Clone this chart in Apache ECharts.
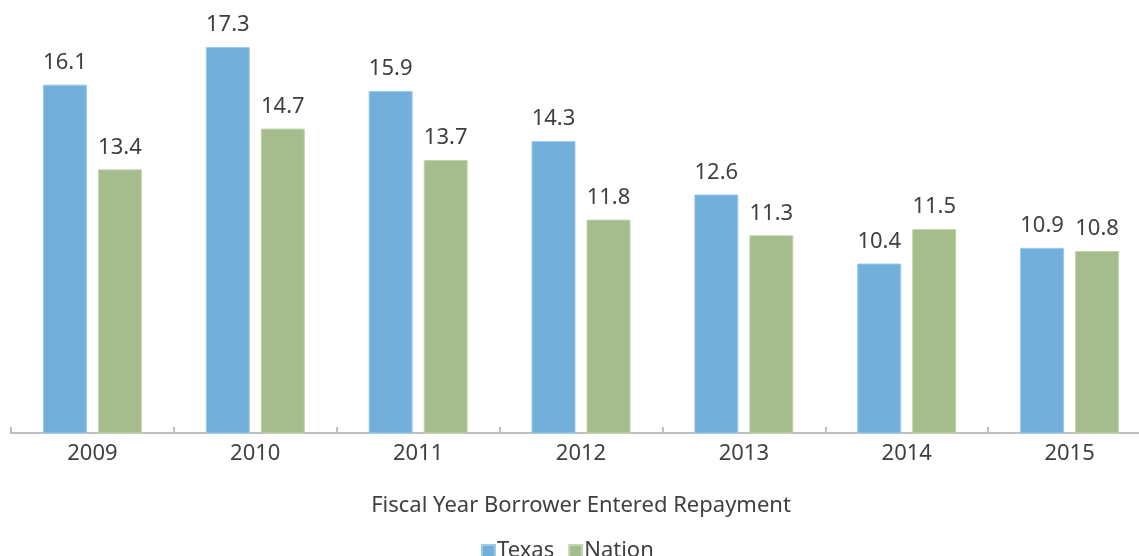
<!DOCTYPE html>
<html><head><meta charset="utf-8">
<script src="https://cdn.jsdelivr.net/npm/echarts@6/dist/echarts.min.js"></script>
<style>html,body{margin:0;padding:0;background:#fff;overflow:hidden;width:1139px;height:556px}#c{width:1160px;height:556px}</style>
</head><body><div id="c"></div>
<script>
const categories = ['2009','2010','2011','2012','2013','2014','2015'];
const texas = [16.1, 17.3, 15.9, 14.3, 12.6, 10.4, 10.9];
const nation = [13.4, 14.7, 13.7, 11.8, 11.3, 11.5, 10.8];
const seriesNames = ['Texas', 'Nation'];
const xAxisTitle = 'Fiscal Year Borrower Entered Repayment';

const FONT = '"Noto Sans", "Open Sans", sans-serif';
const chart = echarts.init(document.getElementById('c'), null, {renderer: 'canvas'});
const lbl = {show: true, position: 'top', distance: 11, color: '#404040', fontSize: 22, fontFamily: FONT};
chart.setOption({
  animation: false,
  grid: {left: 11, right: 9, top: 25, bottom: 123, containLabel: false},
  legend: {
    data: seriesNames, bottom: -11, left: 476, icon: 'rect',
    itemWidth: 13, itemHeight: 12, itemGap: 14,
    textStyle: {color: '#404040', fontSize: 22, fontFamily: FONT, padding: [0,0,0,-3]}
  },
  xAxis: {
    type: 'category', data: categories,
    name: xAxisTitle, nameLocation: 'middle', nameGap: 62,
    nameTextStyle: {color: '#404040', fontSize: 22, fontFamily: FONT},
    axisLine: {show: true, lineStyle: {color: '#bfbfbf', width: 2}},
    axisTick: {show: true, inside: true, length: 6, lineStyle: {color: '#bfbfbf', width: 2}},
    axisLabel: {color: '#404040', fontSize: 22, fontFamily: FONT, margin: 10}
  },
  yAxis: {
    type: 'value', min: 5, max: 18, show: false,
    splitLine: {show: false}
  },
  series: [
    {name: seriesNames[0], type: 'bar', data: texas, barWidth: 44, barGap: '25%',
     itemStyle: {color: '#73afdb', borderColor: '#9ccbec', borderWidth: 1}, label: lbl},
    {name: seriesNames[1], type: 'bar', data: nation, barWidth: 44,
     itemStyle: {color: '#a5bc8c', borderColor: '#c3d6af', borderWidth: 1}, label: lbl}
  ]
});
</script></body></html>
